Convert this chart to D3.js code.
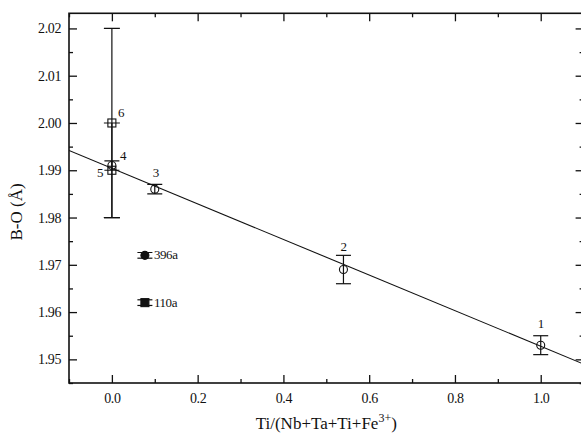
<!DOCTYPE html>
<html>
<head>
<meta charset="utf-8">
<script src="https://cdn.jsdelivr.net/npm/d3@7"></script>
<style>
  html, body { margin: 0; padding: 0; background: #fff; }
  svg { display: block; overflow: hidden; }
  text { font-family: "Liberation Serif", "Times New Roman", serif; fill: #111; }
</style>
</head>
<body>
<svg id="chart" width="581" height="433"></svg>
<script>
// ---- data ----
const labels   = ["1", "2", "3", "4", "5", "6", "396a", "110a"];
const xValues  = [1.00, 0.54, 0.10, 0.00, 0.00, 0.00, 0.077, 0.077];
const yValues  = [1.953, 1.969, 1.986, 1.991, 1.990, 2.000, 1.972, 1.962];
const yErrors  = [0.002, 0.003, 0.001, 0.001, 0.010, 0.020, 0.0006, 0.0006];
const markers  = ["circle", "circle", "circle", "circle", "square", "square", "circleFilled", "squareFilled"];
const fitX     = [-0.1, 1.1];
const fitY     = [1.9942, 1.9490];
const xTicks   = [0.0, 0.2, 0.4, 0.6, 0.8, 1.0];
const xMinor   = [-0.1, 0.1, 0.3, 0.5, 0.7, 0.9, 1.1];
const yTicks   = [1.95, 1.96, 1.97, 1.98, 1.99, 2.00, 2.01, 2.02];
const yMinor   = [1.945, 1.955, 1.965, 1.975, 1.985, 1.995, 2.005, 2.015];

// ---- layout ----
const L = 69, R = 583.6, T = 13.3, B = 383;
const svg = d3.select("#chart");
const x = d3.scaleLinear().domain([-0.1, 1.1]).range([L, R]);
const y = d3.scaleLinear().domain([1.945, 2.0232]).range([B, T]);

const fmt = d3.format(".2f");
const fmtX = d3.format(".1f");

function styleAxis(g) {
  g.select(".domain").remove();
  g.selectAll("line").attr("stroke", "#111").attr("stroke-width", 1.3);
  g.selectAll("text").attr("font-size", 14).attr("font-family", "Liberation Serif").attr("fill", "#111").attr("letter-spacing", -0.4);
}

// bottom
svg.append("g").attr("transform", `translate(0,${B})`)
  .call(d3.axisBottom(x).tickValues(xTicks).tickSize(-8).tickPadding(10).tickFormat(fmtX)).call(styleAxis);
svg.append("g").attr("transform", `translate(0,${B})`)
  .call(d3.axisBottom(x).tickValues(xMinor).tickSize(-4).tickFormat("")).call(styleAxis);
// top
svg.append("g").attr("transform", `translate(0,${T})`)
  .call(d3.axisTop(x).tickValues(xTicks).tickSize(-8).tickFormat("")).call(styleAxis);
svg.append("g").attr("transform", `translate(0,${T})`)
  .call(d3.axisTop(x).tickValues(xMinor).tickSize(-4).tickFormat("")).call(styleAxis);
// left
svg.append("g").attr("transform", `translate(${L},0)`)
  .call(d3.axisLeft(y).tickValues(yTicks).tickSize(-8).tickPadding(8).tickFormat(fmt)).call(styleAxis);
svg.append("g").attr("transform", `translate(${L},0)`)
  .call(d3.axisLeft(y).tickValues(yMinor).tickSize(-4).tickFormat("")).call(styleAxis);
// right
svg.append("g").attr("transform", `translate(${R},0)`)
  .call(d3.axisRight(y).tickValues(yTicks).tickSize(-8).tickFormat("")).call(styleAxis);
svg.append("g").attr("transform", `translate(${R},0)`)
  .call(d3.axisRight(y).tickValues(yMinor).tickSize(-4).tickFormat("")).call(styleAxis);

// frame
svg.append("rect").attr("x", L).attr("y", T).attr("width", R - L).attr("height", B - T)
  .attr("fill", "none").attr("stroke", "#111").attr("stroke-width", 1.6);

// clip
svg.append("clipPath").attr("id", "clip").append("rect")
  .attr("x", L).attr("y", T).attr("width", R - L).attr("height", B - T);
const plot = svg.append("g").attr("clip-path", "url(#clip)");

// fit line
plot.append("line")
  .attr("x1", x(fitX[0])).attr("y1", y(fitY[0]))
  .attr("x2", x(fitX[1])).attr("y2", y(fitY[1]))
  .attr("stroke", "#111").attr("stroke-width", 1.1);

const pts = labels.map((l, i) => ({ l, x: xValues[i], y: yValues[i], e: yErrors[i], m: markers[i] }));

// error bars
pts.forEach(p => {
  const cx = x(p.x), cw = p.e >= 0.01 ? 8 : 7.5;
  const g = plot.append("g").attr("stroke", "#111").attr("stroke-width", 1.2);
  g.append("line").attr("x1", cx).attr("x2", cx).attr("y1", y(p.y - p.e)).attr("y2", y(p.y + p.e));
  [p.y - p.e, p.y + p.e].forEach(v => {
    g.append("line").attr("x1", cx - cw).attr("x2", cx + cw).attr("y1", y(v)).attr("y2", y(v));
  });
});

// markers
pts.forEach(p => {
  const cx = x(p.x), cy = y(p.y);
  if (p.m === "circle" || p.m === "circleFilled") {
    plot.append("circle").attr("cx", cx).attr("cy", cy).attr("r", 4)
      .attr("fill", p.m === "circle" ? "#fff" : "#111")
      .attr("fill-opacity", p.m === "circle" ? 0 : 1)
      .attr("stroke", "#111").attr("stroke-width", 1.1);
  } else {
    plot.append("rect").attr("x", cx - 4).attr("y", cy - 4).attr("width", 8).attr("height", 8)
      .attr("fill", p.m === "square" ? "none" : "#111")
      .attr("stroke", "#111").attr("stroke-width", 1.1);
  }
});

// point labels (offsets in px)
const labelOffsets = {
  "1": [-3, -17], "2": [-3, -19], "3": [-2, -12], "4": [8, -6],
  "5": [-15, 7], "6": [6, -6], "396a": [9, 4], "110a": [9, 4]
};
pts.forEach(p => {
  const o = labelOffsets[p.l];
  svg.append("text").attr("x", x(p.x) + o[0]).attr("y", y(p.y) + o[1])
    .attr("font-size", 13).attr("letter-spacing", -0.4).text(p.l);
});

// axis titles
const xt = svg.append("text").attr("x", (L + R) / 2).attr("y", 429)
  .attr("text-anchor", "middle").attr("font-size", 17);
xt.append("tspan").text("Ti/(Nb+Ta+Ti+Fe");
xt.append("tspan").attr("dy", -7).attr("font-size", 12).text("3+");
xt.append("tspan").attr("dy", 7).text(")");

svg.append("text")
  .attr("transform", "translate(22,212) rotate(-90)")
  .attr("text-anchor", "middle").attr("font-size", 17).text("B-O (Å)");
</script>
</body>
</html>
